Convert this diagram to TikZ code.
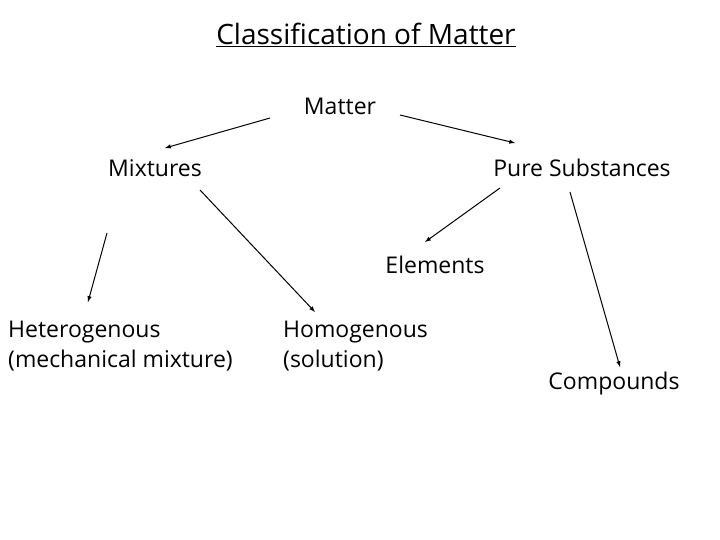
\documentclass[tikz,border=0pt]{standalone}
\usepackage{fontspec}
\setmainfont{Open Sans}
\begin{document}
\begin{tikzpicture}[x=1pt,y=-1pt,
  lbl/.style={inner sep=0pt,font=\fontsize{23}{30}\selectfont},
  arr/.style={-latex,line width=1pt}]
\useasboundingbox (0,0) rectangle (720,540);
\node[lbl,font=\fontsize{28}{32}\selectfont] (t) at (366,35) {\underline{Classification of Matter}};
\node[lbl] (m) at (340,106) {Matter};
\node[lbl] (mx) at (155,168) {Mixtures};
\node[lbl] (ps) at (582,168) {Pure Substances};
\node[lbl] (el) at (435,265) {Elements};
\node[lbl,align=left,anchor=west] (he) at (8,346) {Heterogenous\\(mechanical mixture)};
\node[lbl,align=left,anchor=west] (ho) at (283,346) {Homogenous\\(solution)};
\node[lbl] (co) at (614,384) {Compounds};
\coordinate (a1) at (270,118); \coordinate (b1) at (165,148);
\coordinate (a2) at (400,115); \coordinate (b2) at (515,143);
\coordinate (a3) at (107,233); \coordinate (b3) at (88,302);
\coordinate (a4) at (200,190); \coordinate (b4) at (315,312);
\coordinate (a5) at (500,188); \coordinate (b5) at (425,242);
\coordinate (a6) at (570,192); \coordinate (b6) at (620,367);
\draw[arr] (a1) -- (b1);
\draw[arr] (a2) -- (b2);
\draw[arr] (a3) -- (b3);
\draw[arr] (a4) -- (b4);
\draw[arr] (a5) -- (b5);
\draw[arr] (a6) -- (b6);
\end{tikzpicture}
\end{document}
